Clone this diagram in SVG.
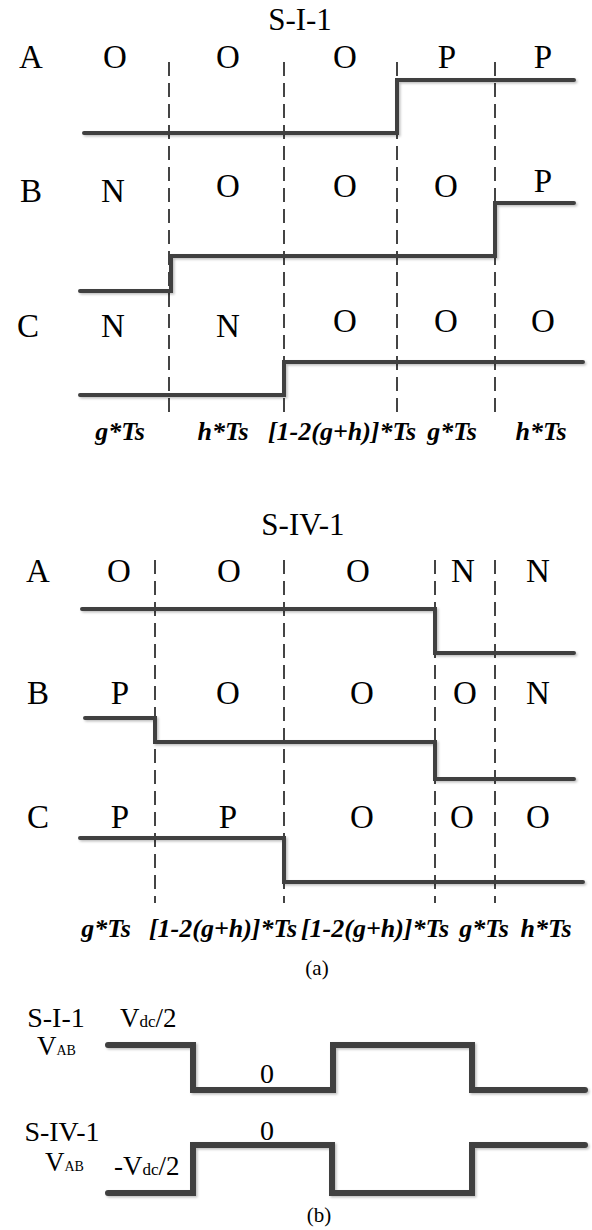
<svg xmlns="http://www.w3.org/2000/svg" width="592" height="1230" viewBox="0 0 592 1230">
<defs>
<filter id="sh" x="-5%" y="-20%" width="110%" height="140%">
<feDropShadow dx="1.5" dy="1.5" stdDeviation="1" flood-color="#000" flood-opacity="0.25"/>
</filter>
</defs>
<style>
.t{font-family:"Liberation Serif","Times New Roman",serif;fill:#000}
.lab{font-size:33px;text-anchor:middle}
.ttl{font-size:31px;text-anchor:middle}
.tm{font-size:26px;font-weight:bold;font-style:italic;text-anchor:middle}
.cap{font-size:21px;text-anchor:middle}
.bl{font-size:28px;text-anchor:middle}
.v{font-size:27px}
.sub{font-size:14px}
.dc{font-size:17px}
.w{fill:none;stroke:#404040;stroke-width:4;stroke-linecap:round;stroke-linejoin:miter;filter:url(#sh)}
.w2{fill:none;stroke:#404040;stroke-width:6;stroke-linecap:round;stroke-linejoin:miter;filter:url(#sh)}
.d{fill:none;stroke:#444;stroke-width:2;stroke-dasharray:14 7}
</style>
<rect width="592" height="1230" fill="#fff"/>

<!-- Panel (a) S-I-1 -->
<g id="panel-s-i-1">
<text class="t ttl" x="300" y="30">S-I-1</text>
<g id="grid-s-i-1">
<line class="d" x1="169" y1="62" x2="169" y2="418"/>
<line class="d" x1="284" y1="62" x2="284" y2="418"/>
<line class="d" x1="397" y1="62" x2="397" y2="418"/>
<line class="d" x1="495" y1="62" x2="495" y2="418"/>
</g>
<g id="s1-row-a">
<text class="t lab" x="31" y="68">A</text>
<text class="t lab" x="115" y="68">O</text>
<text class="t lab" x="228" y="68">O</text>
<text class="t lab" x="345" y="68">O</text>
<text class="t lab" x="447" y="68">P</text>
<text class="t lab" x="543" y="68">P</text>
<polyline class="w" points="84,133 397,133 397,80 574,80"/>
</g>
<g id="s1-row-b">
<text class="t lab" x="31" y="202">B</text>
<text class="t lab" x="113" y="202">N</text>
<text class="t lab" x="228" y="197">O</text>
<text class="t lab" x="345" y="197">O</text>
<text class="t lab" x="446" y="197">O</text>
<text class="t lab" x="543" y="192">P</text>
<polyline class="w" points="80,291 171,291 171,256 495,256 495,203 574,203"/>
</g>
<g id="s1-row-c">
<text class="t lab" x="28" y="337">C</text>
<text class="t lab" x="113" y="337">N</text>
<text class="t lab" x="228" y="337">N</text>
<text class="t lab" x="345" y="332">O</text>
<text class="t lab" x="446" y="332">O</text>
<text class="t lab" x="543" y="332">O</text>
<polyline class="w" points="80,395 284,395 284,362 583,362"/>
</g>
<g id="s1-times">
<text class="t tm" x="120" y="440">g*Ts</text>
<text class="t tm" x="223" y="440">h*Ts</text>
<text class="t tm" x="342" y="440">[1-2(g+h)]*Ts</text>
<text class="t tm" x="452" y="440">g*Ts</text>
<text class="t tm" x="541" y="440">h*Ts</text>
</g>
</g>

<!-- Panel (a) S-IV-1 -->
<g id="panel-s-iv-1">
<text class="t ttl" x="303" y="535">S-IV-1</text>
<g id="grid-s-iv-1">
<line class="d" x1="155" y1="560" x2="155" y2="903"/>
<line class="d" x1="284" y1="560" x2="284" y2="903"/>
<line class="d" x1="435" y1="560" x2="435" y2="903"/>
<line class="d" x1="495" y1="560" x2="495" y2="903"/>
</g>
<g id="s4-row-a">
<text class="t lab" x="38" y="582">A</text>
<text class="t lab" x="119" y="582">O</text>
<text class="t lab" x="229" y="582">O</text>
<text class="t lab" x="358" y="582">O</text>
<text class="t lab" x="463" y="582">N</text>
<text class="t lab" x="538" y="582">N</text>
<polyline class="w" points="82,609 435,609 435,653 574,653"/>
</g>
<g id="s4-row-b">
<text class="t lab" x="38" y="704">B</text>
<text class="t lab" x="120" y="704">P</text>
<text class="t lab" x="228" y="704">O</text>
<text class="t lab" x="362" y="704">O</text>
<text class="t lab" x="465" y="704">O</text>
<text class="t lab" x="538" y="704">N</text>
<polyline class="w" points="85,718 155,718 155,742 435,742 435,779 574,779"/>
</g>
<g id="s4-row-c">
<text class="t lab" x="38" y="828">C</text>
<text class="t lab" x="120" y="828">P</text>
<text class="t lab" x="228" y="828">P</text>
<text class="t lab" x="362" y="828">O</text>
<text class="t lab" x="462" y="828">O</text>
<text class="t lab" x="538" y="828">O</text>
<polyline class="w" points="80,838 284,838 284,882 583,882"/>
</g>
<g id="s4-times">
<text class="t tm" x="106" y="937">g*Ts</text>
<text class="t tm" x="223" y="937">[1-2(g+h)]*Ts</text>
<text class="t tm" x="375" y="937">[1-2(g+h)]*Ts</text>
<text class="t tm" x="484" y="937">g*Ts</text>
<text class="t tm" x="546" y="937">h*Ts</text>
</g>
</g>
<text id="cap-a" class="t cap" x="317" y="975">(a)</text>

<!-- Panel (b) -->
<g id="vab-s-i-1">
<text class="t bl" x="56" y="1027">S-I-1</text>
<text class="t" x="37" y="1055"><tspan class="v">V</tspan><tspan class="sub">AB</tspan></text>
<text class="t" x="120" y="1027"><tspan class="v">V</tspan><tspan class="dc">dc</tspan><tspan class="v">/2</tspan></text>
<text class="t bl" x="267" y="1083">0</text>
<polyline class="w2" points="108,1045 193,1045 193,1090 333,1090 333,1045 472,1045 472,1090 585,1090"/>
</g>
<g id="vab-s-iv-1">
<text class="t bl" x="62" y="1141">S-IV-1</text>
<text class="t" x="45" y="1171"><tspan class="v">V</tspan><tspan class="sub">AB</tspan></text>
<text class="t" x="114" y="1175"><tspan class="v">-V</tspan><tspan class="dc">dc</tspan><tspan class="v">/2</tspan></text>
<text class="t bl" x="267" y="1140">0</text>
<polyline class="w2" points="108,1193 193,1193 193,1145 332,1145 332,1193 472,1193 472,1145 585,1145"/>
</g>
<text id="cap-b" class="t cap" x="319" y="1222">(b)</text>
</svg>
